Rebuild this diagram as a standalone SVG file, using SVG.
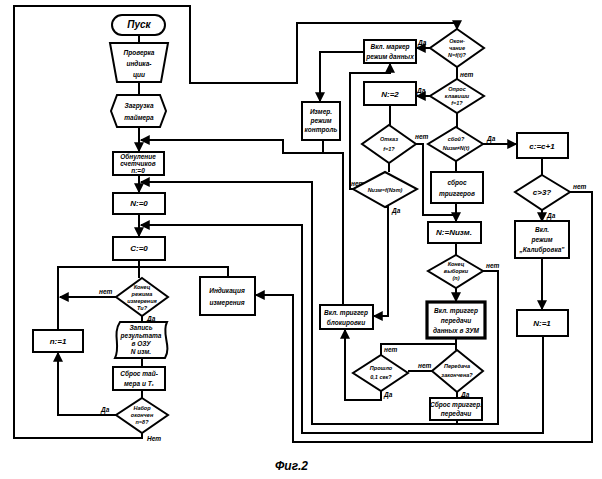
<svg xmlns="http://www.w3.org/2000/svg" width="602" height="479" viewBox="0 0 602 479">
<defs>
<marker id="ar" viewBox="0 0 8 8" refX="7" refY="4" markerWidth="5" markerHeight="5" orient="auto"><path d="M0,0 L8,4 L0,8 Z" fill="#000"/></marker>
<style>
.s{fill:#fff;stroke:#000;stroke-width:2}
.tk{fill:#fff;stroke:#000;stroke-width:3.2}
.c{fill:none;stroke:#000;stroke-width:2}
text{font-family:"Liberation Sans",Arial,sans-serif;font-weight:bold;font-style:italic;fill:#000}
.t{font-size:6.5px;text-anchor:middle}
.m{font-size:8px;text-anchor:middle}
.l{font-size:6.5px}
</style>
</defs>
<rect width="602" height="479" fill="#fff"/>

<g id="connectors">
<path class="c" d="M139,35 V43"/>
<path class="c" d="M139,82 V95"/>
<path class="c" d="M139,127 V151" marker-end="url(#ar)"/>
<path class="c" d="M323,140 V153"/>
<path class="c" d="M343,305 V153 H283 V140 H141" marker-end="url(#ar)"/>
<path class="c" d="M139,175 V192" marker-end="url(#ar)"/>
<path class="c" d="M483,271 H498 V424 H312 V182 H141" marker-end="url(#ar)"/>
<path class="c" d="M457,420 V424"/>
<path class="c" d="M139,214 V236" marker-end="url(#ar)"/>
<path class="c" d="M543,336 V433 H302 V225 H141" marker-end="url(#ar)"/>
<path class="c" d="M139,260 V278"/>
<path class="c" d="M58,330 V267 H228 V277"/>
<path class="c" d="M116,297 H60" marker-end="url(#ar)"/>
<path class="c" d="M142,316 V322"/>
<path class="c" d="M142,358 V367"/>
<path class="c" d="M142,390 V398"/>
<path class="c" d="M116,415 H58 V353" marker-end="url(#ar)"/>
<path class="c" d="M142,433 V438 H14 V6 H190 V83 H297 V23 H457 V29" marker-end="url(#ar)"/>
<path class="c" d="M570,192 H592 V442 H293 V295 H256" marker-end="url(#ar)"/>
<path class="c" d="M430,48 H417" marker-end="url(#ar)"/>
<path class="c" d="M364,52 H320 V101" marker-end="url(#ar)"/>
<path class="c" d="M457,67 V79"/>
<path class="c" d="M430,96 H417" marker-end="url(#ar)"/>
<path class="c" d="M457,113 V127"/>
<path class="c" d="M390,105 V125"/>
<path class="c" d="M389,163 V172"/>
<path class="c" d="M416,144 H423 V215 H456"/>
<path class="c" d="M483,144 H516" marker-end="url(#ar)"/>
<path class="c" d="M456,161 V172"/>
<path class="c" d="M456,203 V221" marker-end="url(#ar)"/>
<path class="c" d="M542,158 V175"/>
<path class="c" d="M542,210 V221" marker-end="url(#ar)"/>
<path class="c" d="M542,258 V309" marker-end="url(#ar)"/>
<path class="c" d="M353,189 H350 V73 H390 V64" marker-end="url(#ar)"/>
<path class="c" d="M385,207 H388 V316 H374" marker-end="url(#ar)"/>
<path class="c" d="M456,243 V255"/>
<path class="c" d="M456,288 V301" marker-end="url(#ar)"/>
<path class="c" d="M456,338 V350"/>
<path class="c" d="M381,355 V344 H456"/>
<path class="c" d="M432,371 H408"/>
<path class="c" d="M457,392 V398"/>
<path class="c" d="M381,391 V400 H345 V330" marker-end="url(#ar)"/>

<text class="l" x="99" y="294">нет</text>
<text class="l" x="147" y="321">Да</text>
<text class="l" x="101" y="412">Да</text>
<text class="l" x="147" y="441">Нет</text>
<text class="l" x="418" y="45">Да</text>
<text class="l" x="460" y="77">нет</text>
<text class="l" x="417" y="93">Да</text>
<text class="l" x="487" y="141">Да</text>
<text class="l" x="415" y="139">нет</text>
<text class="l" x="351" y="186">нет</text>
<text class="l" x="392" y="213">Да</text>
<text class="l" x="573" y="189">нет</text>
<text class="l" x="547" y="218">Да</text>
<text class="l" x="486" y="268">нет</text>
<text class="l" x="384" y="352">нет</text>
<text class="l" x="384" y="397">Да</text>
<text class="l" x="418" y="368">нет</text>
<text class="l" x="461" y="397">Да</text>
</g>

<g id="n_start"><rect class="s" x="112" y="15" width="53" height="20" rx="10"/><text class="m" x="139" y="28" style="font-size:10px">Пуск</text></g>
<g id="n_check"><polygon class="s" points="110,43 168,43 161,82 117,82"/><text class="t" x="139" y="55">Проверка</text><text class="t" x="139" y="66">индика-</text><text class="t" x="139" y="77">ции</text></g>
<g id="n_timer"><polygon class="s" points="117,95 160,95 166,111 160,127 117,127 111,111"/><text class="t" x="139" y="108">Загрузка</text><text class="t" x="139" y="120">таймера</text></g>
<g id="n_reset"><rect class="s" x="113" y="152" width="51" height="23"/><text class="t" x="138" y="159">Обнуление</text><text class="t" x="138" y="166">счетчиков</text><text class="t" x="138" y="173">n:=0</text></g>
<g id="n_N0"><rect class="s" x="113" y="193" width="52" height="21"/><text class="m" x="139" y="206">N:=0</text></g>
<g id="n_C0"><rect class="s" x="113" y="237" width="52" height="23"/><text class="m" x="139" y="251">C:=0</text></g>
<g id="n_end_mode"><polygon class="s" points="142,278 168,297 142,316 116,297"/><text class="t" x="142" y="289" style="font-size:5.5px">Конец</text><text class="t" x="142" y="296" style="font-size:5.5px">режима</text><text class="t" x="142" y="303" style="font-size:5.5px">измерения</text><text class="t" x="142" y="310" style="font-size:5.5px">Tи?</text></g>
<g id="n_indic"><rect class="s" x="200" y="277" width="55" height="38"/><text class="t" x="227" y="293">Индикация</text><text class="t" x="227" y="305">измерения</text></g>
<g id="n_write"><path class="s" d="M120,322 H167 C161,334 172,346 165,358 H115 C121,346 112,334 120,322 Z"/><text class="t" x="141" y="330">Запись</text><text class="t" x="141" y="338">результата</text><text class="t" x="141" y="346">в ОЗУ</text><text class="t" x="141" y="354">N изм.</text></g>
<g id="n_reset_t"><rect class="s" x="113" y="367" width="52" height="23"/><text class="t" x="139" y="376">Сброс тай-</text><text class="t" x="139" y="386">мера и T₁</text></g>
<g id="n_set_end"><polygon class="s" points="142,398 168,415 142,433 116,415"/><text class="t" x="142" y="410" style="font-size:5.5px">Набор</text><text class="t" x="142" y="417" style="font-size:5.5px">окончен</text><text class="t" x="142" y="424" style="font-size:5.5px">n=8?</text></g>
<g id="n_n1"><rect class="s" x="33" y="330" width="50" height="22"/><text class="m" x="58" y="344">n:=1</text></g>

<g id="n_blk_end"><polygon class="s" points="457,29 484,48 457,67 430,48"/><text class="t" x="457" y="43" style="font-size:5.5px">Окон-</text><text class="t" x="457" y="50" style="font-size:5.5px">чание</text><text class="t" x="457" y="57" style="font-size:5.5px">N=f(t)?</text></g>
<g id="n_marker"><rect class="s" x="364" y="40" width="52" height="23"/><text class="t" x="390" y="49">Вкл. маркер</text><text class="t" x="390" y="59">режим данных</text></g>
<g id="n_poll"><polygon class="s" points="457,79 484,96 457,113 430,96"/><text class="t" x="457" y="91" style="font-size:5.5px">Опрос</text><text class="t" x="457" y="98" style="font-size:5.5px">клавиши</text><text class="t" x="457" y="105" style="font-size:5.5px">f=1?</text></g>
<g id="n_N2"><rect class="s" x="364" y="82" width="52" height="23"/><text class="m" x="390" y="97">N:=2</text></g>
<g id="n_ctrl"><rect class="s" x="302" y="102" width="38" height="38"/><text class="t" x="321" y="114">Измер.</text><text class="t" x="321" y="123">режим</text><text class="t" x="321" y="132">контроль</text></g>
<g id="n_fail"><polygon class="s" points="389,125 416,144 389,163 362,144"/><text class="t" x="389" y="141" style="font-size:5.5px">Отказ</text><text class="t" x="389" y="151" style="font-size:5.5px">f=1?</text></g>
<g id="n_err"><polygon class="s" points="456,127 483,144 456,161 428,144"/><text class="t" x="456" y="141" style="font-size:5.5px">сбой?</text><text class="t" x="456" y="150" style="font-size:5.5px">Nизм≠N(t)</text></g>
<g id="n_cinc"><rect class="s" x="517" y="133" width="51" height="25"/><text class="m" x="542" y="149">c:=c+1</text></g>
<g id="n_Nf"><polygon class="s" points="385,172 417,189 385,207 353,189"/><text class="t" x="385" y="192" style="font-size:5.5px">Nизм=f(Nэт)</text></g>
<g id="n_trig"><rect class="s" x="431" y="172" width="52" height="31"/><text class="t" x="457" y="185">сброс</text><text class="t" x="457" y="196">триггеров</text></g>
<g id="n_c3"><polygon class="s" points="542,175 570,192 542,210 515,192"/><text class="m" x="542" y="195">c&gt;3?</text></g>
<g id="n_Nizm"><rect class="s" x="428" y="222" width="53" height="21"/><text class="m" x="454" y="235">N:=Nизм.</text></g>
<g id="n_calib"><rect class="s" x="515" y="221" width="54" height="37"/><text class="t" x="542" y="232">Вкл.</text><text class="t" x="542" y="242">режим</text><text class="t" x="542" y="252">„Калибровка"</text></g>
<g id="n_sample"><polygon class="s" points="456,255 483,271 456,288 428,271"/><text class="t" x="456" y="266" style="font-size:5.5px">Конец</text><text class="t" x="456" y="273" style="font-size:5.5px">выборки</text><text class="t" x="456" y="280" style="font-size:5.5px">(n)</text></g>
<g id="n_tx"><rect class="tk" x="427" y="302" width="58" height="36"/><text class="t" x="456" y="313">Вкл. триггер</text><text class="t" x="456" y="323">передачи</text><text class="t" x="456" y="333">данных в ЗУМ</text></g>
<g id="n_block"><rect class="s" x="320" y="305" width="53" height="24"/><text class="t" x="346" y="315">Вкл. триггер</text><text class="t" x="346" y="325">блокировки</text></g>
<g id="n_N1"><rect class="s" x="517" y="310" width="51" height="26"/><text class="m" x="542" y="326">N:=1</text></g>
<g id="n_time"><polygon class="s" points="381,355 408,373 381,391 353,373"/><text class="t" x="381" y="370" style="font-size:5.5px">Прошло</text><text class="t" x="381" y="379" style="font-size:5.5px">0,1 сек?</text></g>
<g id="n_txdone"><polygon class="s" points="457,350 483,371 457,392 432,371"/><text class="t" x="457" y="368" style="font-size:5.5px">Передача</text><text class="t" x="457" y="377" style="font-size:5.5px">закончена?</text></g>
<g id="n_txreset"><rect class="s" x="430" y="398" width="52" height="22"/><text class="t" x="456" y="407">Сброс триггер.</text><text class="t" x="456" y="416">передачи</text></g>

<text x="275" y="470" style="font-size:12px">Фиг.2</text>
</svg>
